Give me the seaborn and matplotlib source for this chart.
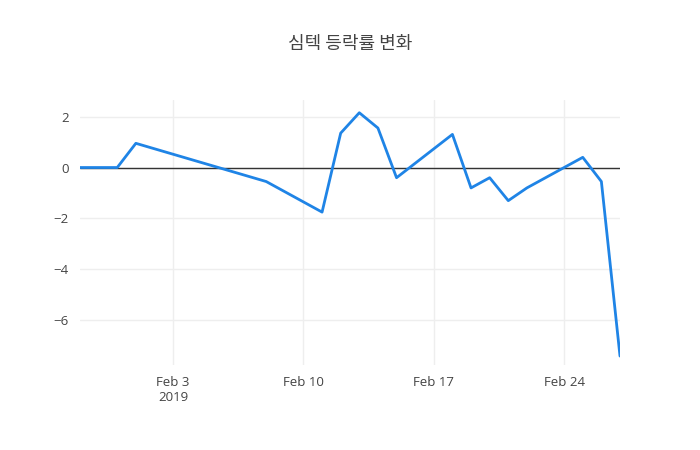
import matplotlib
matplotlib.use("Agg")
import matplotlib.pyplot as plt
import seaborn as sns
import pandas as pd
import matplotlib.dates as mdates

dates = ["2019-01-29","2019-01-31","2019-02-01","2019-02-08","2019-02-11","2019-02-12",
         "2019-02-13","2019-02-14","2019-02-15","2019-02-18","2019-02-19","2019-02-20",
         "2019-02-21","2019-02-22","2019-02-25","2019-02-26","2019-02-27"]
values = [0, 0, 0.95, -0.55, -1.75, 1.35, 2.15, 1.55, -0.4, 1.3, -0.8, -0.4,
          -1.3, -0.8, 0.4, -0.55, -7.4]
title = "심텍 등락률 변화"

df = pd.DataFrame({"date": pd.to_datetime(dates), "value": values})

sns.set_style("white")
plt.rcParams['font.family'] = ['Open Sans', 'Noto Sans CJK KR', 'DejaVu Sans']

fig = plt.figure(figsize=(7, 4.5), dpi=100)
ax = fig.add_axes([80/700, 85/450, 540/700, 265/450])
sns.lineplot(data=df, x="date", y="value", ax=ax, color="#1f84e6", linewidth=2)
ax.axhline(0, color="#333333", linewidth=1, zorder=1)
ax.set_xlim(pd.Timestamp("2019-01-29"), pd.Timestamp("2019-02-27"))
ax.set_ylim(-7.75, 2.65)
ticks = pd.to_datetime(["2019-02-03", "2019-02-10", "2019-02-17", "2019-02-24"])
ax.set_xticks(ticks)
ax.set_xticklabels(["Feb 3\n2019", "Feb 10", "Feb 17", "Feb 24"])
ax.set_yticks([-6, -4, -2, 0, 2])
ax.set_yticklabels(["−6", "−4", "−2", "0", "2"])
ax.grid(True, color="#eeeeee", linewidth=1)
ax.set_axisbelow(True)
for s in ax.spines.values():
    s.set_visible(False)
ax.tick_params(axis="both", length=0, labelsize=9.5, colors="#444444", pad=8)
ax.set_xlabel("")
ax.set_ylabel("")
fig.text(350/700, 1 - 44/450, title, ha="center", va="center", fontsize=13,
         color="#444444", family=['Noto Sans CJK KR', 'DejaVu Sans'])
fig.savefig("out.png", dpi=100)
